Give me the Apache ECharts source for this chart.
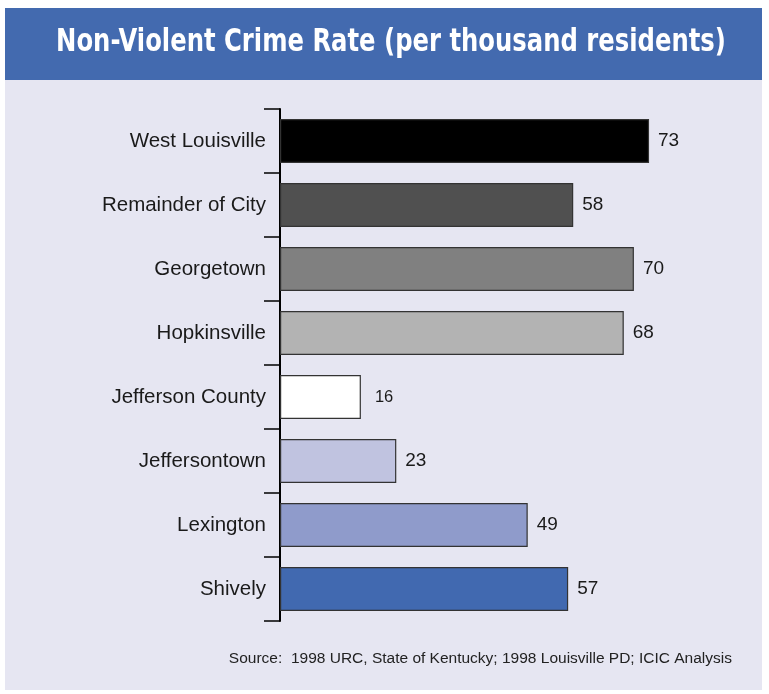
<!DOCTYPE html>
<html>
<head>
<meta charset="utf-8">
<script src="https://cdn.jsdelivr.net/npm/echarts@6/dist/echarts.min.js"></script>
<style>
  html, body { margin: 0; padding: 0; background: #ffffff; }
  #chart { width: 769px; height: 694px; }
</style>
</head>
<body>
<div id="chart"></div>
<script>
// Non-violent crime rates per thousand residents, 1998
const categories = [
  'West Louisville', 'Remainder of City', 'Georgetown', 'Hopkinsville',
  'Jefferson County', 'Jeffersontown', 'Lexington', 'Shively'
];
const rates = [73, 58, 70, 68, 16, 23, 49, 57];
const barColors = [
  '#000000', '#505050', '#808080', '#b3b3b3',
  '#ffffff', '#c0c3e0', '#8f9bcb', '#4169b0'
];

const titleText = 'Non-Violent Crime Rate (per thousand residents)';
const sourceText = 'Source:  1998 URC, State of Kentucky; 1998 Louisville PD; ICIC Analysis';

const chart = echarts.init(document.getElementById('chart'), null, { renderer: 'canvas' });

const option = {
  backgroundColor: '#ffffff',
  animation: false,
  graphic: [
    { type: 'rect', z: -10, shape: { x: 5, y: 80, width: 757, height: 610 },
      style: { fill: '#e6e6f2' } },
    { type: 'rect', z: -10, shape: { x: 5, y: 8, width: 757, height: 72 },
      style: { fill: '#436aaf' } },
    // condensed banner heading
    { type: 'text', x: 391, y: 43, scaleX: 0.9, scaleY: 1.05,
      style: { text: titleText, fill: '#ffffff', align: 'center', verticalAlign: 'middle',
        font: 'bold 30px "DejaVu Sans Condensed", "DejaVu Sans", sans-serif' } },
    { type: 'text', x: 732, y: 659,
      style: { text: sourceText, fill: '#222222', align: 'right', verticalAlign: 'middle',
        font: '15.5px "Liberation Sans", Arial, sans-serif' } }
  ],
  grid: { left: 280, top: 109, width: 455, height: 512, containLabel: false },
  xAxis: {
    type: 'value', min: 0, max: 90, show: false
  },
  yAxis: {
    type: 'category',
    data: categories,
    inverse: true,
    axisLine: { show: true, lineStyle: { color: '#000000', width: 2 } },
    axisTick: { show: true, length: 16, lineStyle: { color: '#000000', width: 1.5 } },
    axisLabel: {
      margin: 14, color: '#1a1a1a', fontSize: 20.5,
      fontFamily: '"Liberation Sans", Arial, sans-serif',
      padding: [0, 0, 5, 0]
    },
    splitLine: { show: false }
  },
  series: [{
    type: 'bar',
    barWidth: 44,
    data: rates.map((v, i) => {
      const item = {
        value: v,
        itemStyle: { color: barColors[i], borderColor: '#333333', borderWidth: 1.2 }
      };
      // the small white bar carries a smaller, further-offset figure
      if (i === 4) item.label = { fontSize: 16.5, distance: 14 };
      return item;
    }),
    label: {
      show: true, position: 'right', distance: 9,
      color: '#1a1a1a', fontSize: 19,
      fontFamily: '"Liberation Sans", Arial, sans-serif'
    }
  }]
};

chart.setOption(option);
</script>
</body>
</html>
